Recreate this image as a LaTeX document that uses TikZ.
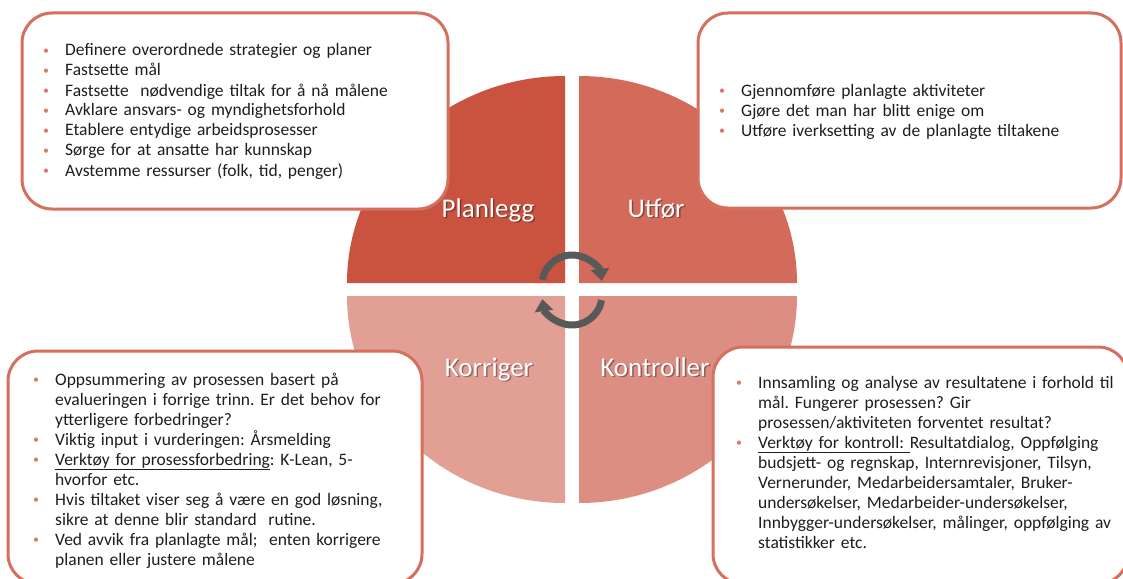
\documentclass[tikz,border=0pt]{standalone}
\usepackage{fontspec}
\setmainfont{Carlito}
\usetikzlibrary{arrows.meta}
\frenchspacing

\definecolor{planC}{HTML}{C9533F}
\definecolor{doC}{HTML}{D36A5A}
\definecolor{actC}{HTML}{E2A095}
\definecolor{checkC}{HTML}{DC8E82}
\definecolor{boxC}{HTML}{D56F5F}
\definecolor{bulC}{HTML}{DA7B6A}
\definecolor{txtC}{HTML}{1E1E1E}
\definecolor{arrC}{HTML}{595959}

% bullet hung in the left margin of a list line
\newcommand\pdcabul{\leavevmode\llap{\makebox[38pt][c]{\raisebox{1.2pt}{\textcolor{bulC}{\fontsize{12}{12}\selectfont\textbullet}}}}}

\begin{document}
\begin{tikzpicture}[x=1pt,y=-1pt,
  infobox/.style={draw=boxC, line width=3pt, fill=white, rounded corners=30pt},
  boxtext/.style={anchor=base west, inner sep=0pt, text width=420pt, align=left,
                  font=\fontsize{17.5}{20}\selectfont, text=txtC},
  phase/.style={anchor=base, inner sep=0pt, font=\fontsize{27}{30}\selectfont, text=white},
  phaseshadow/.style={phase, text=black, opacity=0.35},
  cyc/.style={line width=7pt, draw=arrC, -{Triangle[width=18pt,length=12pt]}}
]
\useasboundingbox (0,0) rectangle (1123,578);
\fill[white] (0,0) rectangle (1123,578);

% four quarter pies
\fill[planC]  (565,283) -- (347,283) arc[start angle=180, end angle=270, x radius=218, y radius=207] -- cycle;
\fill[doC]    (579,283) -- (579,76)  arc[start angle=270, end angle=360, x radius=218, y radius=207] -- cycle;
\fill[checkC] (579,296) -- (797,296) arc[start angle=0,   end angle=90,  x radius=218, y radius=207] -- cycle;
\fill[actC]   (565,296) -- (565,503) arc[start angle=90,  end angle=180, x radius=218, y radius=207] -- cycle;

% cycle arrows in the middle
\draw[cyc] (572,285) ++(190:30) arc[start angle=190, end angle=352, radius=30];
\draw[cyc] (572,295) ++(10:30)  arc[start angle=10,  end angle=172, radius=30];

% text boxes
\draw[infobox] (22,13) rectangle (448,209);
\draw[infobox] (698,13) rectangle (1121,208);
\draw[infobox] (8,351) rectangle (422,584);
\draw[infobox] (713,347) rectangle (1128,584);

\node[boxtext] (plantext) at (65,56) {%
\pdcabul Definere overordnede strategier og planer\\
\pdcabul Fastsette mål\\
\pdcabul Fastsette~ nødvendige tiltak for å nå målene\\
\pdcabul Avklare ansvars- og myndighetsforhold\\
\pdcabul Etablere entydige arbeidsprosesser\\
\pdcabul Sørge for at ansatte har kunnskap\\
\pdcabul Avstemme ressurser (folk, tid, penger)};

\node[boxtext] (dotext) at (741,96) {%
\pdcabul Gjennomføre planlagte aktiviteter\\
\pdcabul Gjøre det man har blitt enige om\\
\pdcabul Utføre iverksetting av de planlagte tiltakene};

\node[boxtext] (acttext) at (55,385) {%
\pdcabul Oppsummering av prosessen basert på\\
evalueringen i forrige trinn. Er det behov for\\
ytterligere forbedringer?\\
\pdcabul Viktig input i vurderingen: Årsmelding\\
\pdcabul \underline{Verktøy for prosessforbedring}: K-Lean, 5-\\
hvorfor etc.\\
\pdcabul Hvis tiltaket viser seg å være en god løsning,\\
sikre at denne blir standard~ rutine.\\
\pdcabul Ved avvik fra planlagte mål;~ enten korrigere\\
planen eller justere målene};

\node[boxtext] (checktext) at (758,388) {%
\pdcabul Innsamling og analyse av resultatene i forhold til\\
mål. Fungerer prosessen? Gir\\
prosessen/aktiviteten forventet resultat?\\
\pdcabul \underline{Verktøy for kontroll:\ }Resultatdialog, Oppfølging\\
budsjett- og regnskap, Internrevisjoner, Tilsyn,\\
Vernerunder, Medarbeidersamtaler, Bruker-\\
undersøkelser, Medarbeider-undersøkelser,\\
Innbygger-undersøkelser, målinger, oppfølging av\\
statistikker etc.};

% phase labels with a soft drop shadow
\node[phaseshadow] (planS)  at (489.5,218.5) {Planlegg};
\node[phaseshadow] (doS)    at (657.5,218.5) {Utfør};
\node[phaseshadow] (actS)   at (490.5,377.5) {Korriger};
\node[phaseshadow] (checkS) at (656.5,377.5) {Kontroller};
\node[phase] (plan)  at (488,217) {Planlegg};
\node[phase] (do)    at (656,217) {Utfør};
\node[phase] (act)   at (489,376) {Korriger};
\node[phase] (check) at (655,376) {Kontroller};
\end{tikzpicture}
\end{document}
